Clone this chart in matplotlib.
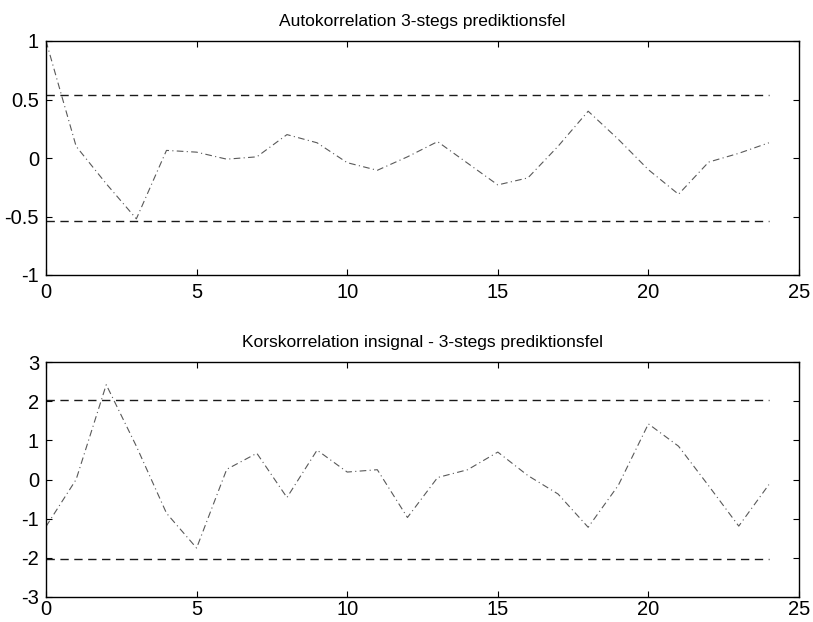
import matplotlib.pyplot as plt
import numpy as np

# autokorrelation och korskorrelation for 3-stegs prediktionsfel, lag 0..24
lags = np.arange(25)
acf = [1.0, 0.10, -0.22, -0.52, 0.065, 0.05, -0.01, 0.01, 0.20, 0.13,
       -0.04, -0.105, 0.01, 0.14, -0.045, -0.23, -0.17, 0.10, 0.40, 0.16,
       -0.10, -0.31, -0.035, 0.04, 0.13]
acf_conf = 0.54

ccf = [-1.2, 0.0, 2.42, 0.85, -0.86, -1.75, 0.26, 0.67, -0.46, 0.75,
       0.19, 0.25, -0.97, 0.05, 0.25, 0.70, 0.10, -0.37, -1.22, -0.15,
       1.42, 0.85, -0.16, -1.19, -0.13]
ccf_conf = 2.03

titles = ['Autokorrelation 3-stegs prediktionsfel',
          'Korskorrelation insignal - 3-stegs prediktionsfel']
yticks = [[-1, -0.5, 0, 0.5, 1], [-3, -2, -1, 0, 1, 2, 3]]
yticklabels = [['-1', '-0.5', '0', '0.5', '1'], ['-3', '-2', '-1', '0', '1', '2', '3']]
ylims = [(-1, 1), (-3, 3)]

plt.rcParams['font.family'] = 'Liberation Sans'

fig = plt.figure(figsize=(8.13, 6.22), dpi=100)
ax1 = fig.add_axes([46/813, 1-275/622, 753/813, 234/622])
ax2 = fig.add_axes([46/813, 1-597/622, 753/813, 235/622])

for ax, y, c, t, yt, ytl, yl, xpad in zip([ax1, ax2], [acf, ccf], [acf_conf, ccf_conf],
                                          titles, yticks, yticklabels, ylims, [6, 2]):
    ax.plot(lags, y, color='0.35', lw=0.8, linestyle=(0, (6, 3, 1, 3)))
    ax.plot([0, 24], [c, c], color='0.1', lw=1.0, linestyle=(0, (6, 4)))
    ax.plot([0, 24], [-c, -c], color='0.1', lw=1.0, linestyle=(0, (6, 4)))
    ax.set_xlim(0, 25)
    ax.set_ylim(*yl)
    ax.set_xticks([0, 5, 10, 15, 20, 25])
    ax.set_yticks(yt)
    ax.set_yticklabels(ytl)
    ax.tick_params(direction='in', top=True, right=True, length=4, width=0.8,
                   labelsize=14.5)
    ax.tick_params(axis='x', pad=xpad)
    ax.tick_params(axis='y', pad=5)
    for s in ax.spines.values():
        s.set_linewidth(1.0)
    ax.set_title(t, fontsize=12.5, pad=11)

fig.savefig('out.png', dpi=100, facecolor='white')
